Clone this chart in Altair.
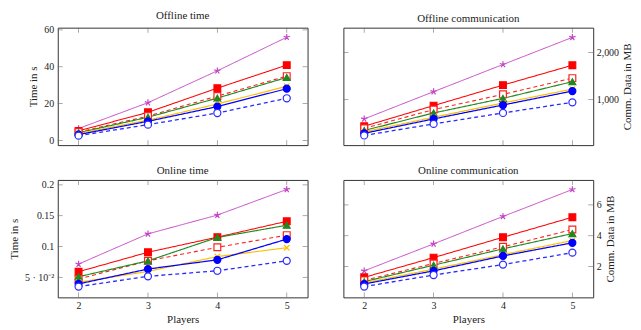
import altair as alt
import pandas as pd

FONT = "Liberation Serif"

players = [2, 3, 4, 5]
series = ["magenta_star", "red_square", "red_square_open", "green_triangle",
          "orange_x", "blue_circle", "blue_circle_open"]

# Offline time (s)
off_time_magenta = [6.5, 20.5, 37.8, 56.0]
off_time_red = [5.2, 15.3, 28.4, 40.9]
off_time_red_open = [4.6, 13.2, 24.1, 34.9]
off_time_green = [4.2, 12.6, 23.0, 34.2]
off_time_orange = [3.8, 11.0, 19.8, 29.4]
off_time_blue = [3.2, 10.4, 18.4, 28.1]
off_time_blue_open = [2.6, 8.6, 14.9, 22.9]

# Offline communication (MB)
off_comm_magenta = [590, 1169, 1746, 2323]
off_comm_red = [435, 873, 1309, 1731]
off_comm_red_open = [390, 789, 1112, 1457]
off_comm_green = [345, 717, 1027, 1381]
off_comm_orange = [315, 626, 928, 1224]
off_comm_blue = [285, 590, 886, 1182]
off_comm_blue_open = [239, 484, 717, 943]

# Online time (s)
on_time_magenta = [0.0715, 0.1205, 0.151, 0.1926]
on_time_red = [0.0591, 0.0907, 0.1152, 0.1409]
on_time_red_open = [0.0474, 0.0768, 0.0987, 0.1184]
on_time_green = [0.051, 0.0768, 0.1147, 0.1345]
on_time_orange = [0.042, 0.0596, 0.0837, 0.098]
on_time_blue = [0.0394, 0.0635, 0.0784, 0.112]
on_time_blue_open = [0.035, 0.0516, 0.0607, 0.0768]

# Online communication (MB)
on_comm_magenta = [1.72, 3.47, 5.25, 7.0]
on_comm_red = [1.3, 2.58, 3.9, 5.2]
on_comm_red_open = [1.1, 2.2, 3.28, 4.4]
on_comm_green = [1.02, 2.09, 3.15, 4.14]
on_comm_orange = [0.94, 1.83, 2.77, 3.69]
on_comm_blue = [0.87, 1.72, 2.69, 3.54]
on_comm_blue_open = [0.70, 1.45, 2.13, 2.9]

# Axis ticks
off_time_ticks = [0, 20, 40, 60]
off_comm_ticks = [1000, 2000]
on_time_ticks = [0.05, 0.1, 0.15, 0.2]
on_comm_ticks = [2, 4, 6]

# Styles
colors = ["#c445c4", "#ff0000", "#ff2020", "#1f8a1f", "#ffbf00", "#0000ff", "#2a2aff"]
dashes = [[1, 0], [1, 0], [4, 3], [1, 0], [1, 0], [1, 0], [4, 3]]
widths = [1.0, 1.3, 1.3, 1.3, 1.3, 1.3, 1.3]
STAR = "M0,-1L0,0M0.951,-0.309L0,0M0.588,0.809L0,0M-0.588,0.809L0,0M-0.951,-0.309L0,0"
XMARK = "M-0.8,-0.8L0.8,0.8M-0.8,0.8L0.8,-0.8"
shapes = [STAR, "square", "square", "triangle-up", XMARK, "circle", "circle"]
fills = ["#c445c4", "#ff0000", "white", "#1f8a1f", "#ffbf00", "#0000ff", "white"]
sizes = [45, 50, 40, 35, 40, 38, 35]

W, H = 251, 118
XDOM = [1.7, 5.3]


def make_df(lists):
    rows = []
    for s, vals in zip(series, lists):
        for p, v in zip(players, vals):
            rows.append({"player": p, "value": v, "series": s})
    return pd.DataFrame(rows)


def panel(lists, title, ydom, yticks, orient, ytitle, show_x, yformat=None, label_expr=None):
    df = make_df(lists)
    xscale = alt.Scale(domain=XDOM, nice=False, zero=False)
    yscale = alt.Scale(domain=ydom, nice=False, zero=False)
    if show_x:
        xaxis = alt.Axis(values=players, format="d", title="Players", ticks=False,
                         domain=False, grid=False, labelPadding=3, titlePadding=3)
    else:
        xaxis = None
    ykw = dict(orient=orient, values=yticks, title=ytitle, ticks=False, domain=False,
               grid=False, labelPadding=4, titlePadding=5, labelOverlap=False)
    if yformat:
        ykw["format"] = yformat
    if label_expr:
        ykw["labelExpr"] = label_expr
    if orient == "right":
        ykw["titleAngle"] = 270
        ykw["titleBaseline"] = "top"
        ykw["labelPadding"] = 3
        ykw["titlePadding"] = 3
    yaxis = alt.Axis(**ykw)

    base = alt.Chart(df)
    x = alt.X("player:Q", scale=xscale, axis=xaxis)
    y = alt.Y("value:Q", scale=yscale, axis=yaxis)
    sdom = series
    lines = base.mark_line().encode(
        x=x, y=y,
        color=alt.Color("series:N", scale=alt.Scale(domain=sdom, range=colors), legend=None),
        strokeDash=alt.StrokeDash("series:N", scale=alt.Scale(domain=sdom, range=dashes), legend=None),
        strokeWidth=alt.StrokeWidth("series:N", scale=alt.Scale(domain=sdom, range=widths), legend=None),
    )
    points = base.mark_point(filled=True, strokeWidth=1.2, opacity=1).encode(
        x=x, y=y,
        shape=alt.Shape("series:N", scale=alt.Scale(domain=sdom, range=shapes), legend=None),
        stroke=alt.Stroke("series:N", scale=alt.Scale(domain=sdom, range=colors), legend=None),
        fill=alt.Fill("series:N", scale=alt.Scale(domain=sdom, range=fills), legend=None),
        size=alt.Size("series:N", scale=alt.Scale(domain=sdom, range=sizes), legend=None),
    )
    xt = pd.DataFrame({"player": players})
    yt = pd.DataFrame({"value": yticks})
    tick_style = dict(color="#666", thickness=0.8, size=5)
    xt_top = alt.Chart(xt).mark_tick(orient="vertical", **tick_style).encode(
        x=x, y=alt.value(2.5))
    xt_bot = alt.Chart(xt).mark_tick(orient="vertical", **tick_style).encode(
        x=x, y=alt.value(H - 2.5))
    yt_left = alt.Chart(yt).mark_tick(orient="horizontal", **tick_style).encode(
        y=y, x=alt.value(2.5))
    yt_right = alt.Chart(yt).mark_tick(orient="horizontal", **tick_style).encode(
        y=y, x=alt.value(W - 2.5))
    return alt.layer(lines, points, xt_top, xt_bot, yt_left, yt_right).properties(
        width=W, height=H,
        title=alt.TitleParams(title, fontSize=11, font=FONT, fontWeight="normal",
                              color="#222", offset=4),
    )


tl = panel([off_time_magenta, off_time_red, off_time_red_open, off_time_green,
            off_time_orange, off_time_blue, off_time_blue_open],
           "Offline time", [-2.5, 61.2], off_time_ticks, "left", "Time in s", False, yformat="d")
tr = panel([off_comm_magenta, off_comm_red, off_comm_red_open, off_comm_green,
            off_comm_orange, off_comm_blue, off_comm_blue_open],
           "Offline communication", [34, 2529], off_comm_ticks, "right", "Comm. Data in MB", False,
           yformat=",.0f")
bl = panel([on_time_magenta, on_time_red, on_time_red_open, on_time_green,
            on_time_orange, on_time_blue, on_time_blue_open],
           "Online time", [0.0175, 0.208], on_time_ticks, "left", "Time in s", True,
           yformat="~g", label_expr="datum.value < 0.06 ? '5 · 10⁻²' : datum.label")
br = panel([on_comm_magenta, on_comm_red, on_comm_red_open, on_comm_green,
            on_comm_orange, on_comm_blue, on_comm_blue_open],
           "Online communication", [0, 7.62], on_comm_ticks, "right", "Comm. Data in MB", True,
           yformat="d")

chart = alt.concat(tl, tr, bl, br, columns=2, spacing={"row": 18, "column": 34}).properties(
    padding={"left": 0, "top": 0, "right": 0, "bottom": 0}
).configure_view(stroke="#333", strokeWidth=1).configure_axis(
    labelFont=FONT, titleFont=FONT, labelFontSize=10, titleFontSize=11,
    titleFontWeight="normal", labelColor="#222", titleColor="#222"
)

chart.save("out.html", embed_options={"renderer": "svg", "actions": False})
